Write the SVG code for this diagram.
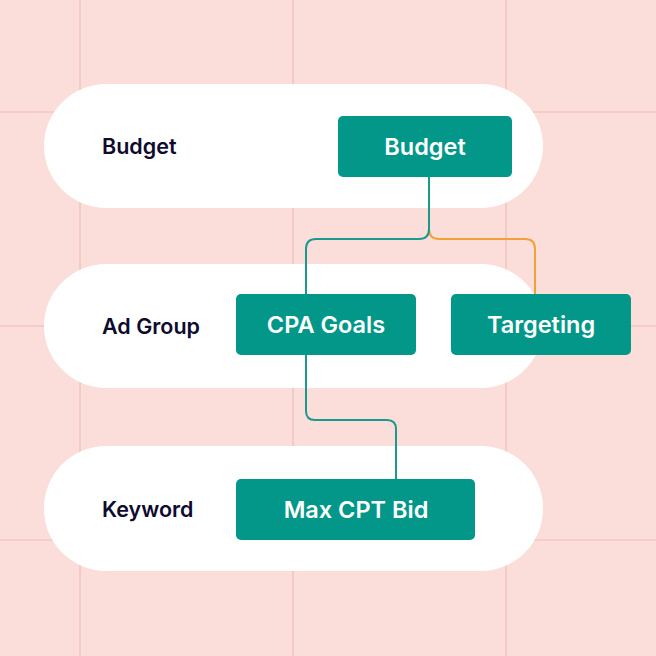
<svg xmlns="http://www.w3.org/2000/svg" width="656" height="656" viewBox="0 0 656 656">
<defs>
<style>
.grid{stroke:#F3C6C1;stroke-width:1.6}
.pill{fill:#FFFFFF}
.lbl{font-family:Inter,"Liberation Sans",sans-serif;font-weight:600;font-size:21.5px;fill:#0E0B2E}
.box{fill:#029789}
.bt{font-family:Inter,"Liberation Sans",sans-serif;font-weight:600;font-size:23.5px;fill:#FFFFFF;text-anchor:middle}
.c{fill:none;stroke-width:2}
</style>
</defs>
<rect width="656" height="656" fill="#FBDDD9"/>
<g id="grid">
<line class="grid" x1="80" y1="0" x2="80" y2="656"/>
<line class="grid" x1="293" y1="0" x2="293" y2="656"/>
<line class="grid" x1="506" y1="0" x2="506" y2="656"/>
<line class="grid" x1="0" y1="112" x2="656" y2="112"/>
<line class="grid" x1="0" y1="326" x2="656" y2="326"/>
<line class="grid" x1="0" y1="540" x2="656" y2="540"/>
</g>
<g id="tier-budget">
<rect class="pill" x="44" y="84" width="499" height="124" rx="62"/>
<text class="lbl" x="102" y="154">Budget</text>
</g>
<g id="tier-adgroup">
<rect class="pill" x="44" y="264" width="499" height="124" rx="62"/>
<text class="lbl" x="102" y="334">Ad Group</text>
</g>
<g id="tier-keyword">
<rect class="pill" x="44" y="446" width="499" height="125" rx="62"/>
<text class="lbl" x="102" y="517">Keyword</text>
</g>
<g id="connectors">
<path class="c" stroke="#F0A236" d="M429 177 V229 Q429 239 439 239 H525 Q535 239 535 249 V294"/>
<path class="c" stroke="#1A9A8C" d="M429 177 V229 Q429 239 419 239 H316 Q306 239 306 249 V294"/>
<path class="c" stroke="#1A9A8C" d="M306 355 V411 Q306 420 315 420 H387 Q396 420 396 429 V479"/>
</g>
<g id="node-budget">
<rect class="box" x="338" y="116" width="174" height="61" rx="5"/>
<text class="bt" x="425" y="155">Budget</text>
</g>
<g id="node-cpa">
<rect class="box" x="236" y="294" width="180" height="61" rx="5"/>
<text class="bt" x="326" y="333">CPA Goals</text>
</g>
<g id="node-targeting">
<rect class="box" x="451" y="294" width="180" height="61" rx="5"/>
<text class="bt" x="541" y="333">Targeting</text>
</g>
<g id="node-maxcpt">
<rect class="box" x="236" y="479" width="239" height="61" rx="5"/>
<text class="bt" x="356" y="518">Max CPT Bid</text>
</g>
</svg>
